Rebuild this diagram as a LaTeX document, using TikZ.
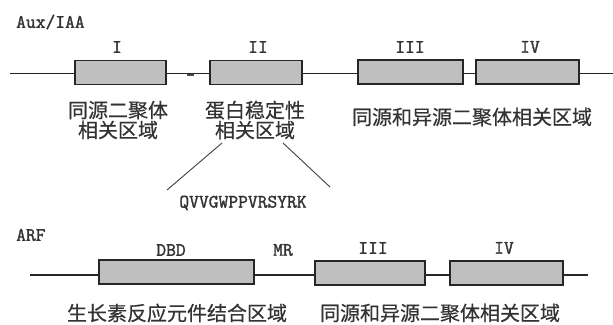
\documentclass[tikz,border=0pt]{standalone}
\usepackage{fontspec}
\newfontfamily\cjk[FakeBold=0.5]{Noto Sans CJK SC}
\newfontfamily\latb[FakeBold=1.6]{Latin Modern Mono}
\begin{document}
\begin{tikzpicture}[x=1pt,y=-1pt,
  dom/.style={draw=black!85, line width=1.4pt, fill=gray!50, inner sep=0pt, outer sep=0pt, minimum height=24pt},
  axis/.style={draw=black!85, line width=1.1pt},
  thin/.style={draw=black!75, line width=0.9pt},
  lab/.style={inner sep=0pt, font=\latb\fontsize{19}{19}\selectfont, text=black!80},
  zh/.style={inner sep=0pt, font=\cjk\fontsize{20}{20}\selectfont, text=black!80, align=center}]
\useasboundingbox (0,0) rectangle (613,324);
% ---------- Aux/IAA ----------
\node[lab, anchor=west] (auxlab) at (16,22) {Aux/IAA};
\coordinate (al) at (10,73.5);
\coordinate (ar) at (613,73.5);
\node[dom, minimum width=91pt] (b1) at (120.5,72.5) {};
\node[dom, minimum width=92pt] (b2) at (256,72.5) {};
\node[dom, minimum width=105pt] (b3) at (410.5,72) {};
\node[dom, minimum width=103pt] (b4) at (527.5,72) {};
\draw[axis] (al) -- (b1.west |- al);
\draw[axis] (b1.east |- al) -- (b2.west |- al);
\draw[axis] (b2.east |- al) -- (b3.west |- al);
\draw[axis] (b3.east |- al) -- (b4.west |- al);
\draw[axis] (b4.east |- al) -- (ar);
\coordinate (m1) at (187,75);
\coordinate (m2) at (194,75);
\draw[draw=black!70, line width=1.8pt] (m1) -- (m2);
\node[lab] (l1) at (117,47) {I};
\node[lab] (l2) at (258,47) {II};
\node[lab] (l3) at (410,47) {III};
\node[lab] (l4) at (530,47) {IV};
\node[zh] (t1) at (118,120) {同源二聚体\\相关区域};
\node[zh] (t2) at (255,120) {蛋白稳定性\\相关区域};
\node[zh] (t3) at (472,117) {同源和异源二聚体相关区域};
\coordinate (d1a) at (222,143);
\coordinate (d1b) at (167,190);
\coordinate (d2a) at (283,143);
\coordinate (d2b) at (330,187);
\draw[thin] (d1a) -- (d1b);
\draw[thin] (d2a) -- (d2b);
\node[lab] (seq) at (243,203) {QVVGWPPVRSYRK};
% ---------- ARF ----------
\node[lab, anchor=west] (arflab) at (16,235) {ARF};
\coordinate (bl) at (30,275);
\coordinate (br) at (588,275);
\node[dom, minimum width=155pt] (c1) at (176.5,272) {};
\node[dom, minimum width=110pt] (c2) at (370,273) {};
\node[dom, minimum width=113pt] (c3) at (506.5,273) {};
\draw[axis] (bl) -- (c1.west |- bl);
\draw[axis] (c1.east |- bl) -- (c2.west |- bl);
\draw[axis] (c2.east |- bl) -- (c3.west |- bl);
\draw[axis] (c3.east |- bl) -- (br);
\node[lab] (k1) at (171,250) {DBD};
\node[lab] (k2) at (283,250) {MR};
\node[lab] (k3) at (373,248) {III};
\node[lab] (k4) at (504,248) {IV};
\node[zh] (u1) at (177,313) {生长素反应元件结合区域};
\node[zh] (u2) at (440,313) {同源和异源二聚体相关区域};
\end{tikzpicture}
\end{document}
